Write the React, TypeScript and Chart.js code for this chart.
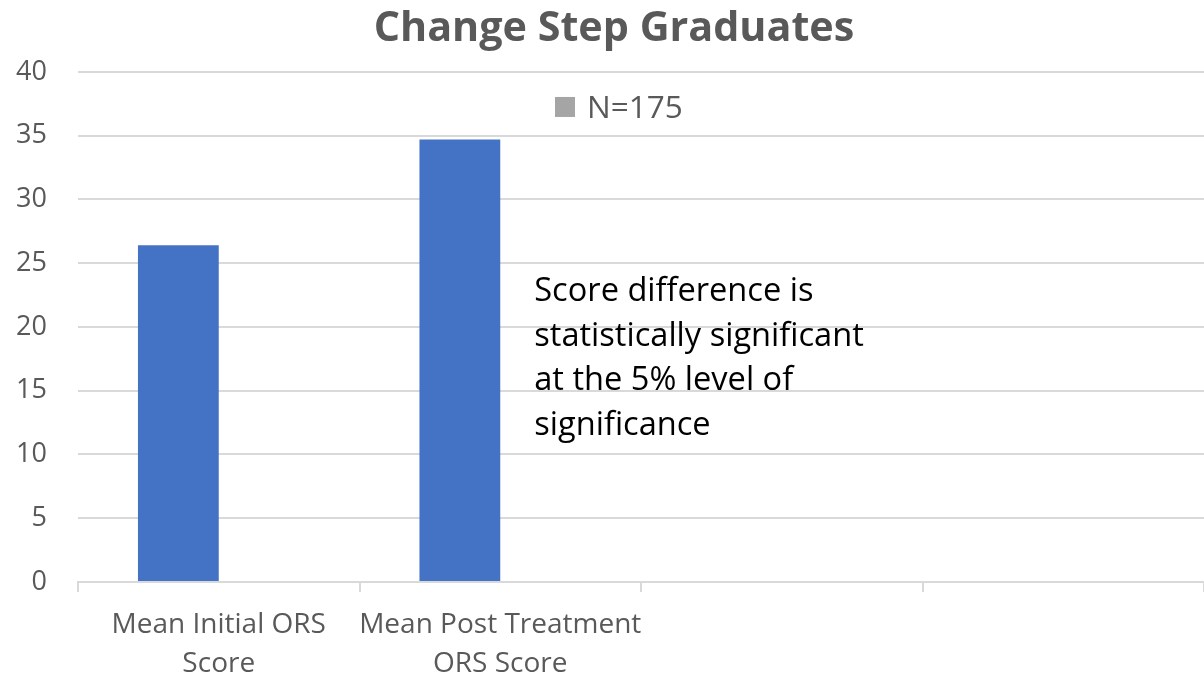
import React, { useEffect, useRef } from 'react';
import { Chart, registerables } from 'chart.js';

Chart.register(...registerables);

const categories: (string | string[])[] = [
  ['Mean Initial ORS', 'Score'],
  ['Mean Post Treatment', 'ORS Score'],
  '',
  '',
];
const scoreValues: (number | null)[] = [26.4, 34.7, null, null];
const legendSeries: (number | null)[] = [null, null, null, null];
const legendLabel = 'N=175';
const titleText = 'Change Step Graduates';
const noteLines = [
  'Score difference is',
  'statistically significant',
  'at the 5% level of',
  'significance',
];
const yMin = 0;
const yMax = 40;
const yStep = 5;

const FONT = '"Open Sans", sans-serif';
const GREY_TEXT = '#595959';
const GRID = '#D9D9D9';

const customLegend = {
  id: 'customLegend',
  afterDraw(chart: any) {
    const { ctx, chartArea } = chart;
    const ds = chart.data.datasets[1];
    const cx = (chartArea.left + chartArea.right) / 2;
    const y = chartArea.top + 35;
    ctx.save();
    ctx.font = `31.5px ${FONT}`;
    const box = 20;
    const gap = 12;
    const x0 = cx - 86;
    ctx.fillStyle = ds.backgroundColor;
    ctx.fillRect(x0, y - box / 2, box, box);
    ctx.fillStyle = GREY_TEXT;
    ctx.textBaseline = 'alphabetic';
    ctx.textAlign = 'left';
    ctx.fillText(ds.label, x0 + box + gap, y + 11);
    ctx.restore();
  },
};

const noteText = {
  id: 'noteText',
  afterDraw(chart: any) {
    const { ctx } = chart;
    const xs = chart.scales.x;
    const x = xs.getPixelForValue(1) + 34;
    ctx.save();
    ctx.font = `32.6px ${FONT}`;
    ctx.fillStyle = '#000000';
    ctx.textBaseline = 'alphabetic';
    ctx.textAlign = 'left';
    noteLines.forEach((line, i) => {
      ctx.fillText(line, x, 301 + i * 44.5);
    });
    ctx.restore();
  },
};

export default function App() {
  const ref = useRef<HTMLCanvasElement | null>(null);
  useEffect(() => {
    if (!ref.current) return;
    const chart = new Chart(ref.current, {
      type: 'bar',
      data: {
        labels: categories,
        datasets: [
          {
            label: '',
            data: scoreValues,
            backgroundColor: '#4472C4',
            borderWidth: 0,
            barPercentage: 1,
            categoryPercentage: 0.574,
          },
          {
            label: legendLabel,
            data: legendSeries,
            backgroundColor: '#A5A5A5',
            borderWidth: 0,
            barPercentage: 1,
            categoryPercentage: 0.574,
          },
        ],
      },
      plugins: [customLegend, noteText],
      options: {
        animation: false,
        responsive: false,
        maintainAspectRatio: false,
        layout: { padding: { left: 24, right: 0, top: 0, bottom: 0 } },
        plugins: {
          legend: { display: false },
          tooltip: { enabled: false },
          title: {
            display: true,
            text: titleText,
            color: GREY_TEXT,
            font: { family: FONT, size: 41.3, weight: 'bold', lineHeight: 1.2 },
            padding: { top: 4, bottom: 18.4 },
          },
        },
        scales: {
          x: {
            grid: {
              display: true,
              drawOnChartArea: false,
              drawTicks: true,
              tickLength: 10,
              color: GRID,
              lineWidth: 2,
              offset: true,
            },
            border: { display: true, color: GRID, width: 2 },
            ticks: {
              color: GREY_TEXT,
              font: { family: FONT, size: 28, lineHeight: 1.4 },
              padding: 13,
              maxRotation: 0,
              autoSkip: false,
            },
            afterFit(scale: any) {
              scale.height = 93;
            },
          },
          y: {
            min: yMin,
            max: yMax,
            ticks: {
              stepSize: yStep,
              color: GREY_TEXT,
              font: { family: FONT, size: 27 },
              padding: 31,
            },
            grid: { color: GRID, lineWidth: 2, drawTicks: false },
            border: { display: false },
            afterFit(scale: any) {
              scale.width = 54;
              scale._computeLabelArea = () => undefined;
            },
          },
        },
      },
    });
    return () => chart.destroy();
  }, []);
  return (
    <div style={{ position: 'absolute', left: 0, top: 0, width: 1204, height: 675, background: '#fff' }}>
      <canvas ref={ref} width={1204} height={675} style={{ display: 'block' }} />
    </div>
  );
}
